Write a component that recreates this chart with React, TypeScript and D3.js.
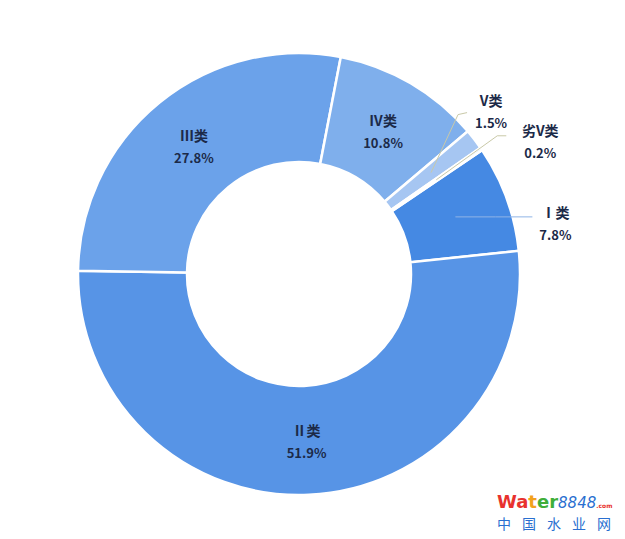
import React from "react";
import * as d3 from "d3";

const categories = ["Ⅰ类", "Ⅱ类", "Ⅲ类", "Ⅳ类", "V类", "劣V类"];
const values = [7.8, 51.9, 27.8, 10.8, 1.5, 0.2];
const colors = ["#4589E3", "#5794E6", "#6BA2EA", "#7FAFEC", "#A6C6F2", "#C8DCF6"];
const watermarkChars = ["中", "国", "水", "业", "网"];
// label placement: "in" = on the centroid, otherwise offset from centroid
const labelMode = ["out", "in", "in", "in", "out", "out"];
// leader [elbow dx, elbow dy, end dx, end dy, label dx, label dy] relative to centroid
const leaders: (number[] | null)[] = [
  [40, 0, 77, 0, 100, 5],
  null,
  null,
  null,
  [27, -58, 36, -60, 60, -63],
  [61, -44, 70, -44, 104, -40],
];

const W = 625;
const H = 539;
const cx = 299;
const cy = 274;
const outerR = 221;
const innerR = 112;
const startDeg = 55.9;

export default function App() {
  const start = (startDeg * Math.PI) / 180;
  const pie = d3
    .pie<number>()
    .sort(null)
    .value((d) => d)
    .startAngle(start)
    .endAngle(start + 2 * Math.PI);
  const arcs = pie(values);
  const arc = d3.arc<d3.PieArcDatum<number>>().innerRadius(innerR).outerRadius(outerR);
  const textColor = "#1c2a48";
  const font = "'Noto Sans CJK SC', 'Noto Sans', sans-serif";

  const label = (x: number, y: number, i: number) => (
    <g fontFamily={font} fontSize={14} fill={textColor} textAnchor="middle">
      <text x={x} y={y - 4} fontWeight="bold">{categories[i]}</text>
      <text x={x} y={y + 18} fontSize={13} fontWeight={600}>{values[i].toFixed(1)}%</text>
    </g>
  );

  return (
    <svg
      width={W}
      height={H}
      style={{ position: "absolute", left: 0, top: 0, background: "#fff" }}
    >
      <g transform={`translate(${cx},${cy})`}>
        {arcs.map((a, i) => (
          <path key={i} d={arc(a) || ""} fill={colors[i]} stroke="#fff" strokeWidth={2.5} />
        ))}
        {arcs.map((a, i) => {
          const [x, y] = arc.centroid(a);
          if (labelMode[i] === "in") {
            return <g key={"l" + i}>{label(x, y, i)}</g>;
          }
          const L = leaders[i]!;
          const pts: [number, number][] = [
            [x, y],
            [x + L[0], y + L[1]],
            [x + L[2], y + L[3]],
          ];
          return (
            <g key={"l" + i}>
              <path
                d={d3.line()(pts) || ""}
                fill="none"
                stroke={i === 0 ? "#8fb4e6" : "#c9c9a8"}
                strokeWidth={1}
              />
              {label(x + L[4], y + L[5], i)}
            </g>
          );
        })}
      </g>
      <g fontFamily="'DejaVu Sans', sans-serif">
        <text x={497} y={508} fontSize={18} fontWeight="bold">
          <tspan fill="#e8322e">Wa</tspan>
          <tspan fill="#f2a21c">t</tspan>
          <tspan fill="#3fae3a">e</tspan>
          <tspan fill="#3fae3a">r</tspan>
          <tspan fill="#2a6fd0" fontStyle="italic" fontWeight="normal" fontSize={15}>8848</tspan>
          <tspan fill="#e8322e" fontSize={6}>.com</tspan>
        </text>
        {watermarkChars.map((c, i) => (
          <text
            key={c}
            x={504 + i * 25}
            y={529}
            fontSize={14}
            fill="#2a6fd0"
            textAnchor="middle"
            fontFamily="'Noto Sans CJK SC', sans-serif"
          >
            {c}
          </text>
        ))}
      </g>
    </svg>
  );
}
